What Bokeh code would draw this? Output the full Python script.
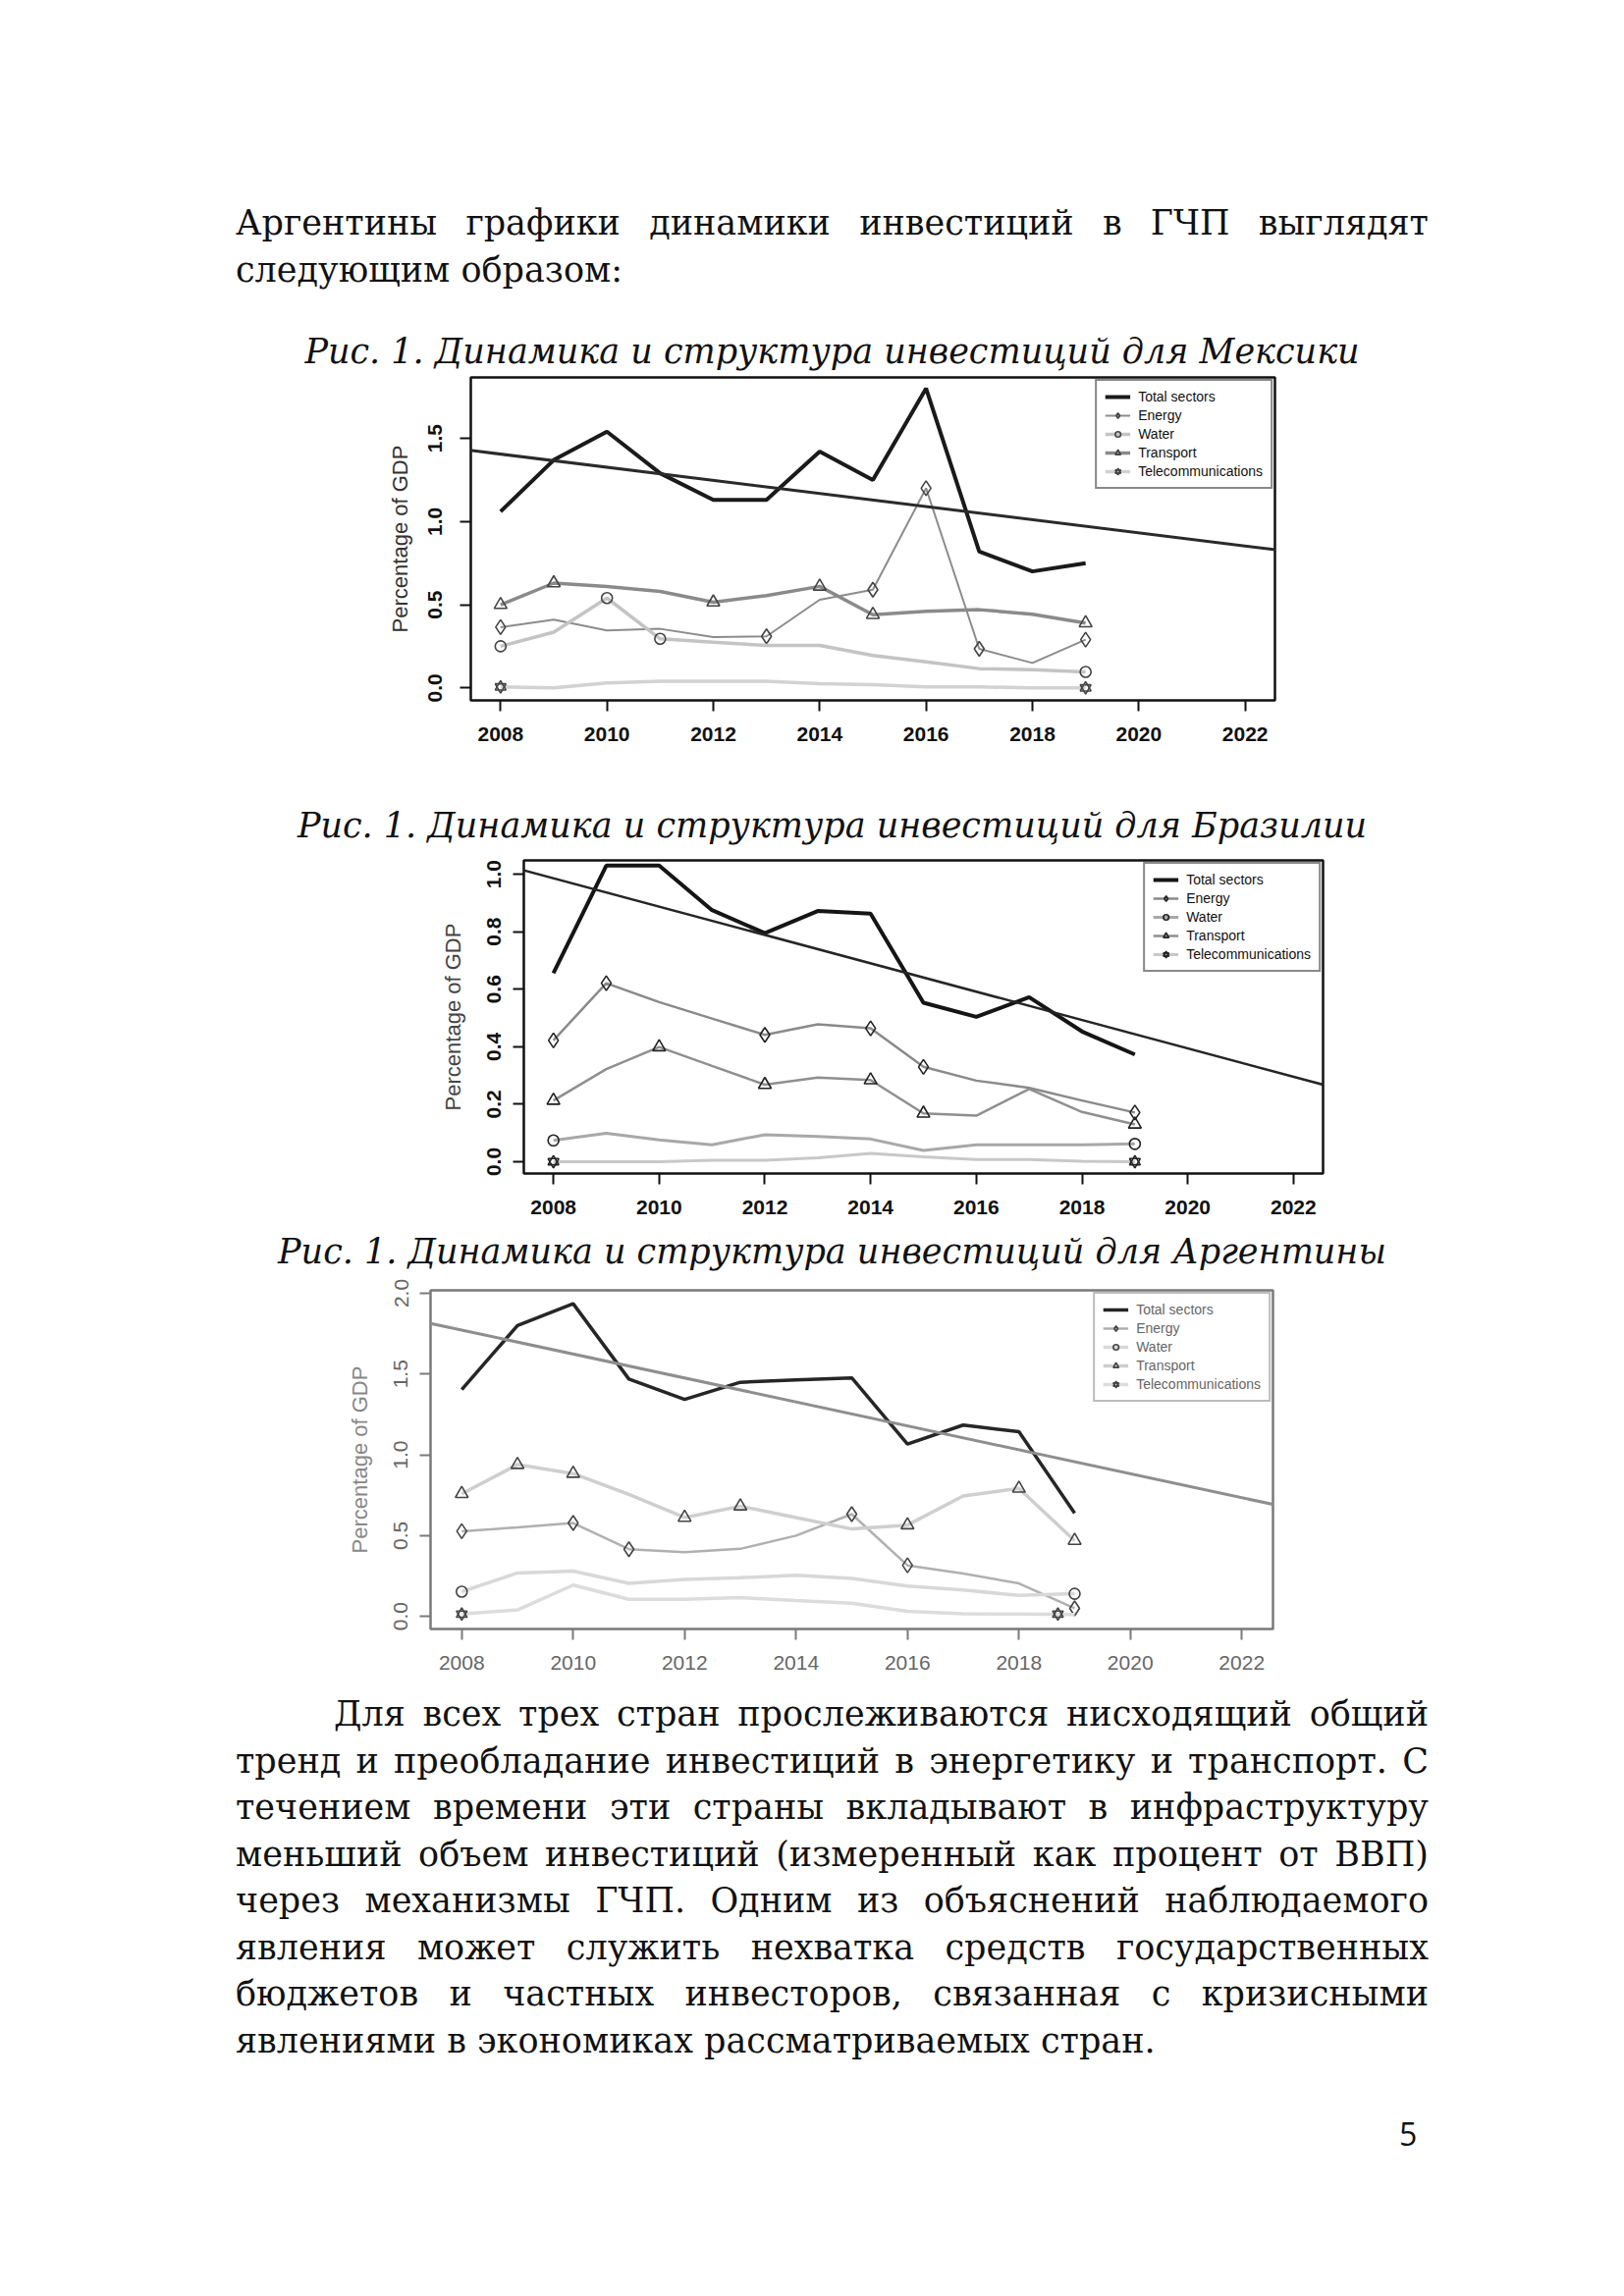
from bokeh.plotting import figure
from bokeh.models import Range1d, FixedTicker, PrintfTickFormatter, Slope, Legend, LegendItem, Div
from bokeh.layouts import column
from bokeh.embed import file_html
from bokeh.resources import INLINE
import numpy as np

# ---------------- data ----------------
years = list(range(2008, 2020))
x_ticks = [2008, 2010, 2012, 2014, 2016, 2018, 2020, 2022]
series_names = ["Total sectors", "Energy", "Water", "Transport", "Telecommunications"]

# Mexico
mex_total = [1.06, 1.37, 1.54, 1.29, 1.13, 1.13, 1.42, 1.25, 1.80, 0.82, 0.70, 0.75]
mex_energy = [0.365, 0.41, 0.345, 0.355, 0.305, 0.31, 0.53, 0.59, 1.20, 0.235, 0.15, 0.29]
mex_water = [0.25, 0.335, 0.54, 0.295, 0.275, 0.255, 0.255, 0.195, 0.156, 0.116, 0.11, 0.096]
mex_transport = [0.50, 0.63, 0.61, 0.58, 0.515, 0.555, 0.61, 0.44, 0.46, 0.47, 0.443, 0.39]
mex_telecom = [0.006, 0.0, 0.03, 0.04, 0.04, 0.04, 0.026, 0.02, 0.006, 0.006, 0.0, 0.0]
mex_mk_energy = [2008, 2013, 2015, 2016, 2017, 2019]
mex_mk_water = [2008, 2010, 2011, 2019]
mex_mk_transport = [2008, 2009, 2012, 2014, 2015, 2019]
mex_mk_telecom = [2008, 2019]
mex_yticks = [0.0, 0.5, 1.0, 1.5]

# Brazil
bra_total = [0.656, 1.03, 1.03, 0.875, 0.795, 0.872, 0.863, 0.553, 0.504, 0.572, 0.453, 0.373]
bra_energy = [0.422, 0.621, 0.555, 0.498, 0.441, 0.478, 0.464, 0.33, 0.282, 0.257, 0.213, 0.171]
bra_water = [0.074, 0.099, 0.076, 0.059, 0.094, 0.088, 0.079, 0.039, 0.059, 0.059, 0.059, 0.062]
bra_transport = [0.213, 0.322, 0.399, 0.333, 0.268, 0.293, 0.284, 0.168, 0.16, 0.253, 0.173, 0.13]
bra_telecom = [0.0, 0.0, 0.0, 0.005, 0.005, 0.014, 0.029, 0.017, 0.008, 0.008, 0.002, 0.0]
bra_mk_energy = [2008, 2009, 2012, 2014, 2015, 2019]
bra_mk_water = [2008, 2019]
bra_mk_transport = [2008, 2010, 2012, 2014, 2015, 2019]
bra_mk_telecom = [2008, 2019]
bra_yticks = [0.0, 0.2, 0.4, 0.6, 0.8, 1.0]

# Argentina
arg_total = [1.404, 1.80, 1.935, 1.469, 1.343, 1.449, 1.463, 1.476, 1.067, 1.184, 1.143, 0.639]
arg_energy = [0.527, 0.551, 0.578, 0.416, 0.398, 0.418, 0.50, 0.633, 0.316, 0.265, 0.204, 0.05]
arg_water = [0.153, 0.269, 0.28, 0.204, 0.229, 0.239, 0.255, 0.235, 0.188, 0.163, 0.13, 0.14]
arg_transport = [0.759, 0.939, 0.884, 0.755, 0.612, 0.682, 0.612, 0.541, 0.565, 0.745, 0.792, 0.469]
arg_telecom = [0.014, 0.04, 0.194, 0.106, 0.106, 0.116, 0.098, 0.082, 0.031, 0.016, 0.014, 0.012]
arg_mk_energy = [2008, 2010, 2011, 2015, 2016, 2019]
arg_mk_water = [2008, 2019]
arg_mk_transport = [2008, 2009, 2010, 2012, 2013, 2016, 2018, 2019]
arg_mk_telecom_x = [2008, 2018.7]
arg_mk_telecom_y = [0.014, 0.014]
arg_yticks = [0.0, 0.5, 1.0, 1.5, 2.0]

# texts
top_lines = ["Аргентины графики динамики инвестиций в ГЧП выглядят",
             "следующим образом:"]
captions = ["Рис. 1. Динамика и структура инвестиций для Мексики",
            "Рис. 1. Динамика и структура инвестиций для Бразилии",
            "Рис. 1. Динамика и структура инвестиций для Аргентины"]
para_lines = ["Для всех трех стран прослеживаются нисходящий общий",
              "тренд и преобладание инвестиций в энергетику и транспорт. С",
              "течением времени эти страны вкладывают в инфраструктуру",
              "меньший объем инвестиций (измеренный как процент от ВВП)",
              "через механизмы ГЧП. Одним из объяснений наблюдаемого",
              "явления может служить  нехватка средств государственных",
              "бюджетов и частных инвесторов, связанная с кризисными",
              "явлениями в экономиках рассматриваемых стран."]
page_number = "5"

PAGE_W = 1638
SERIF = "'DejaVu Serif', serif"
FS = 35
LH = 47.5
BL = 120   # common left border of every chart
BR = 12    # common right border of every chart


def pick(series, mk_years):
    return [series[years.index(y)] for y in mk_years]


def make_chart(c):
    fw = c["frame_w"]
    p = figure(width=BL + fw + BR, height=c["height"],
               x_range=Range1d(2007.44, 2022.56), y_range=Range1d(*c["yr"]),
               output_backend="svg", toolbar_location=None,
               min_border_left=BL, min_border_right=BR,
               min_border_top=c["bt"], min_border_bottom=c["bb"],
               margin=(0, 0, 0, c["frame_x"] - BL))
    p.grid.visible = False
    p.background_fill_color = "white"
    p.border_fill_color = "white"
    p.outline_line_color = c["frame"]
    p.outline_line_width = 2.5

    for ax in (p.xaxis, p.yaxis):
        ax.axis_line_color = None
        ax.major_tick_line_color = c["frame"]
        ax.major_tick_line_width = 2
        ax.major_tick_out = 11
        ax.major_tick_in = 0
        ax.minor_tick_line_color = None
        ax.major_label_text_font = "Liberation Sans"
        ax.major_label_text_font_size = "21px"
        ax.major_label_text_font_style = c["tick_style"]
        ax.major_label_text_color = c["tick"]
    p.xaxis.ticker = FixedTicker(ticks=x_ticks)
    p.xaxis.major_label_standoff = 16
    p.yaxis.ticker = FixedTicker(ticks=c["yticks"])
    p.yaxis.formatter = PrintfTickFormatter(format="%.1f")
    p.yaxis.major_label_orientation = "vertical"
    p.yaxis.major_label_standoff = c["yls"]
    p.yaxis.axis_label = "Percentage of GDP"
    p.yaxis.axis_label_text_font = "Liberation Sans"
    p.yaxis.axis_label_text_font_size = "22px"
    p.yaxis.axis_label_text_font_style = "normal"
    p.yaxis.axis_label_text_color = c["label"]
    p.yaxis.axis_label_standoff = c["yas"]

    col = c["colors"]
    lw = c["widths"]
    mk = c["mk_color"]
    r_total = p.line(years, c["total"], line_color=col[0], line_width=lw[0])
    m, b = np.polyfit(years, c["total"], 1)
    p.add_layout(Slope(gradient=m, y_intercept=b, line_color=c["trend"], line_width=c["trend_w"]))

    items = [LegendItem(label=series_names[0], renderers=[r_total])]
    spec = [("energy", "diamond", 15), ("water", "circle", 11), ("transport", "triangle", 13)]
    for i, (key, marker, sz) in enumerate(spec, start=1):
        rl = p.line(years, c[key], line_color=col[i], line_width=lw[i])
        xs = c["mk_" + key]
        rs = p.scatter(xs, pick(c[key], xs), marker=marker, size=sz, fill_color=None,
                       line_color=mk, line_width=1.6)
        items.append(LegendItem(label=series_names[i], renderers=[rl, rs]))
    rl = p.line(years, c["telecom"], line_color=col[4], line_width=lw[4])
    tx = c["mk_telecom_x"]
    ty = c["mk_telecom_y"]
    r1 = p.scatter(tx, ty, marker="triangle", size=11, fill_color=None, line_color=mk, line_width=1.6)
    r2 = p.scatter(tx, ty, marker="inverted_triangle", size=11, fill_color=None, line_color=mk, line_width=1.6)
    items.append(LegendItem(label=series_names[4], renderers=[rl, r1, r2]))

    leg = Legend(items=items, location="top_right", margin=2,
                 border_line_color=c["frame"], border_line_width=2,
                 background_fill_color="white", background_fill_alpha=1.0,
                 label_text_font="Liberation Sans", label_text_font_size="14px",
                 label_text_color=c["legtext"], glyph_width=26, glyph_height=14,
                 label_height=14, label_standoff=8, spacing=3, padding=8)
    p.add_layout(leg)
    return p


mex = make_chart(dict(height=435, frame_x=479, frame_w=819, yr=(-0.075, 1.866), bt=2, bb=104,
                      frame="#111111", tick="#111111", label="#333333", legtext="#111111",
                      tick_style="bold", yticks=mex_yticks, yls=18, yas=14,
                      colors=["#1a1a1a", "#8c8c8c", "#c4c4c4", "#8a8a8a", "#d2d2d2"],
                      widths=[4, 2, 3.5, 3.5, 3.5], trend="#2a2a2a", trend_w=3, mk_color="#444444",
                      total=mex_total, energy=mex_energy, water=mex_water, transport=mex_transport,
                      telecom=mex_telecom, mk_energy=mex_mk_energy, mk_water=mex_mk_water,
                      mk_transport=mex_mk_transport, mk_telecom_x=mex_mk_telecom,
                      mk_telecom_y=pick(mex_telecom, mex_mk_telecom)))

bra = make_chart(dict(height=386, frame_x=533, frame_w=814, yr=(-0.041, 1.048), bt=11, bb=56,
                      frame="#111111", tick="#111111", label="#444444", legtext="#111111",
                      tick_style="bold", yticks=bra_yticks, yls=12, yas=20,
                      colors=["#151515", "#8a8a8a", "#a8a8a8", "#8f8f8f", "#c8c8c8"],
                      widths=[4, 2.5, 3, 2.5, 3], trend="#252525", trend_w=2.5, mk_color="#222222",
                      total=bra_total, energy=bra_energy, water=bra_water, transport=bra_transport,
                      telecom=bra_telecom, mk_energy=bra_mk_energy, mk_water=bra_mk_water,
                      mk_transport=bra_mk_transport, mk_telecom_x=bra_mk_telecom,
                      mk_telecom_y=pick(bra_telecom, bra_mk_telecom)))

arg = make_chart(dict(height=424, frame_x=438, frame_w=858, yr=(-0.078, 2.018), bt=15, bb=64,
                      frame="#7a7a7a", tick="#666666", label="#888888", legtext="#666666",
                      tick_style="normal", yticks=arg_yticks, yls=12, yas=20,
                      colors=["#262626", "#b0b0b0", "#d8d8d8", "#cfcfcf", "#dcdcdc"],
                      widths=[3.5, 2.5, 3.5, 3.5, 3.5], trend="#8e8e8e", trend_w=3, mk_color="#444444",
                      total=arg_total, energy=arg_energy, water=arg_water, transport=arg_transport,
                      telecom=arg_telecom, mk_energy=arg_mk_energy, mk_water=arg_mk_water,
                      mk_transport=arg_mk_transport, mk_telecom_x=arg_mk_telecom_x,
                      mk_telecom_y=arg_mk_telecom_y))


def just_line(text, indent=0):
    spans = "".join(f"<span style='white-space:nowrap'>{w}</span>" for w in text.split())
    return (f"<div style='display:flex;justify-content:space-between;height:{LH}px;"
            f"line-height:{LH}px;margin-left:{indent}px'>{spans}</div>")


def plain_line(text):
    return f"<div style='height:{LH}px;line-height:{LH}px;white-space:nowrap'>{text}</div>"


def text_block(lines, indent_first=0):
    html = []
    for i, t in enumerate(lines):
        if i == len(lines) - 1:
            html.append(plain_line(t))
        else:
            html.append(just_line(t, indent_first if i == 0 else 0))
    return "".join(html)


BLOCK = (f"font-family:{SERIF};font-size:{FS}px;color:#111;width:1215px;margin-left:240px;")

top_div = Div(text=f"<div style=\"{BLOCK}padding-top:204px\">{text_block(top_lines)}</div>",
              width=PAGE_W, height=334, margin=0)


def cap_div(t):
    return Div(text=(f"<div style=\"font-family:{SERIF};font-style:italic;font-size:{FS}px;"
                     f"color:#111;width:1215px;margin-left:240px;text-align:center;"
                     f"line-height:48px;height:48px;white-space:nowrap\">{t}</div>"),
               width=PAGE_W, height=48, margin=0)


para_div = Div(text=f"<div style=\"{BLOCK}\">{text_block(para_lines, indent_first=100)}</div>",
               width=PAGE_W, height=431, margin=0)
num_div = Div(text=(f"<div style=\"font-family:'Open Sans',sans-serif;font-size:32px;color:#111;"
                    f"line-height:40px;margin-left:1425px\">{page_number}</div>"),
              width=PAGE_W, height=40, margin=0)

page = column(top_div, cap_div(captions[0]), mex, cap_div(captions[1]), bra,
              cap_div(captions[2]), arg, para_div, num_div, spacing=0, margin=0)

open("out.html", "w").write(file_html(page, INLINE))
